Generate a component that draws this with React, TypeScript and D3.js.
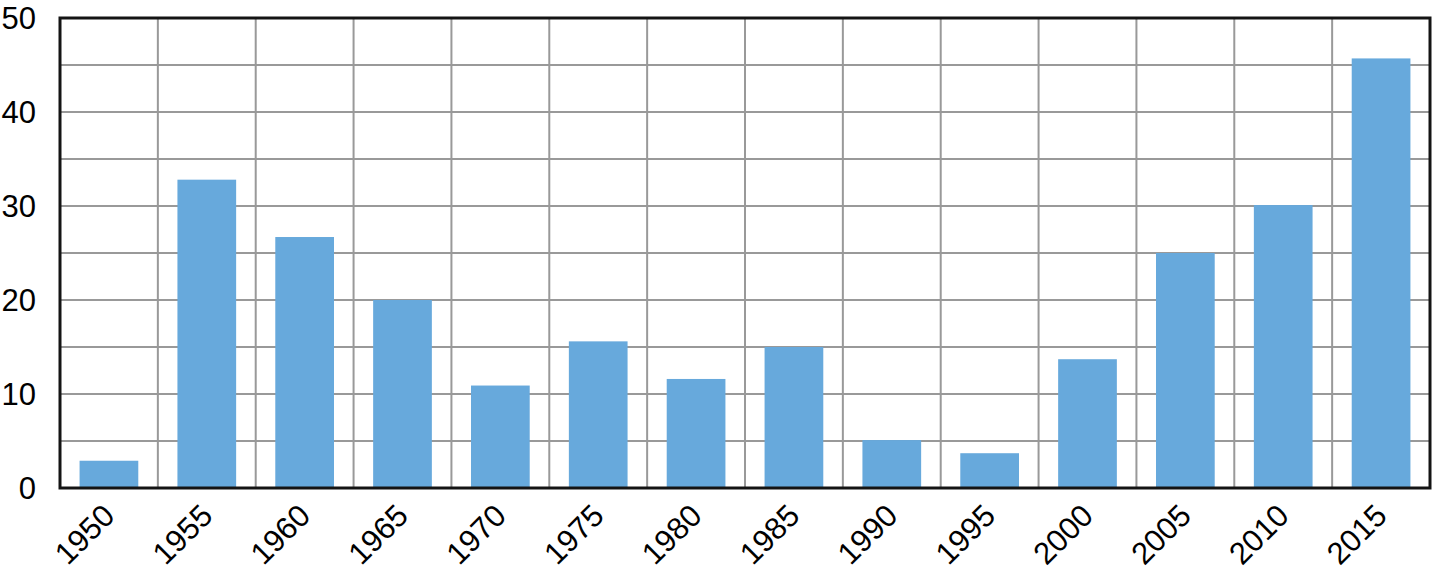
import { useEffect, useRef } from "react";
import * as d3 from "d3";

const years = [
  "1950", "1955", "1960", "1965", "1970", "1975", "1980",
  "1985", "1990", "1995", "2000", "2005", "2010", "2015",
];
const values = [2.9, 32.8, 26.7, 20, 10.9, 15.6, 11.6, 15, 5.1, 3.7, 13.7, 25, 30.1, 45.7];
const yTicks = [0, 10, 20, 30, 40, 50];
const yGrid = [5, 10, 15, 20, 25, 30, 35, 40, 45];

export default function App() {
  const svgRef = useRef<SVGSVGElement>(null);

  useEffect(() => {
    if (!svgRef.current) return;
    const width = 1433;
    const height = 579;
    const margin = { top: 18, right: 3, bottom: 91, left: 60 };

    const svg = d3.select(svgRef.current);
    svg.selectAll("*").remove();
    svg.attr("width", width).attr("height", height);

    const x = d3
      .scaleBand()
      .domain(years)
      .range([margin.left, width - margin.right])
      .paddingInner(0.4)
      .paddingOuter(0.2);

    const y = d3
      .scaleLinear()
      .domain([0, 50])
      .range([height - margin.bottom, margin.top]);

    const step = x.step();
    const font = "'Liberation Sans', Arial, Helvetica, sans-serif";

    // horizontal grid
    svg
      .append("g")
      .selectAll("line")
      .data(yGrid)
      .enter()
      .append("line")
      .attr("x1", margin.left)
      .attr("x2", width - margin.right)
      .attr("y1", (d) => y(d))
      .attr("y2", (d) => y(d))
      .style("stroke", "#999")
      .style("stroke-width", "2px");

    // vertical grid at category boundaries
    svg
      .append("g")
      .selectAll("line")
      .data(years.slice(1))
      .enter()
      .append("line")
      .attr("x1", (d) => (x(d) ?? 0) - step * 0.2)
      .attr("x2", (d) => (x(d) ?? 0) - step * 0.2)
      .attr("y1", margin.top)
      .attr("y2", height - margin.bottom)
      .style("stroke", "#999")
      .style("stroke-width", "2px");

    // bars
    svg
      .append("g")
      .selectAll("rect")
      .data(values)
      .enter()
      .append("rect")
      .attr("x", (_, i) => x(years[i]) ?? 0)
      .attr("y", (d) => y(d))
      .attr("width", x.bandwidth())
      .attr("height", (d) => y(0) - y(d))
      .style("fill", "#67a9dc");

    // frame
    svg
      .append("rect")
      .attr("x", margin.left)
      .attr("y", margin.top)
      .attr("width", width - margin.left - margin.right)
      .attr("height", height - margin.top - margin.bottom)
      .style("fill", "none")
      .style("stroke", "#141414")
      .style("stroke-width", "3px");

    // y tick labels
    svg
      .append("g")
      .selectAll("text")
      .data(yTicks)
      .enter()
      .append("text")
      .attr("x", 36)
      .attr("y", (d) => y(d))
      .attr("dy", "0.36em")
      .attr("text-anchor", "end")
      .style("font-family", font)
      .style("font-size", "31px")
      .style("fill", "#000")
      .text((d) => d);

    // x tick labels
    svg
      .append("g")
      .selectAll("text")
      .data(years)
      .enter()
      .append("text")
      .attr(
        "transform",
        (d) =>
          `translate(${(x(d) ?? 0) + x.bandwidth() / 2 - 8},${height - margin.bottom + 14}) rotate(-45)`
      )
      .attr("dy", "0.71em")
      .attr("text-anchor", "end")
      .style("font-family", font)
      .style("font-size", "31px")
      .style("fill", "#000")
      .text((d) => d);
  }, []);

  return (
    <div style={{ position: "absolute", left: 0, top: 0, background: "#fff" }}>
      <svg ref={svgRef} style={{ display: "block" }} />
    </div>
  );
}
